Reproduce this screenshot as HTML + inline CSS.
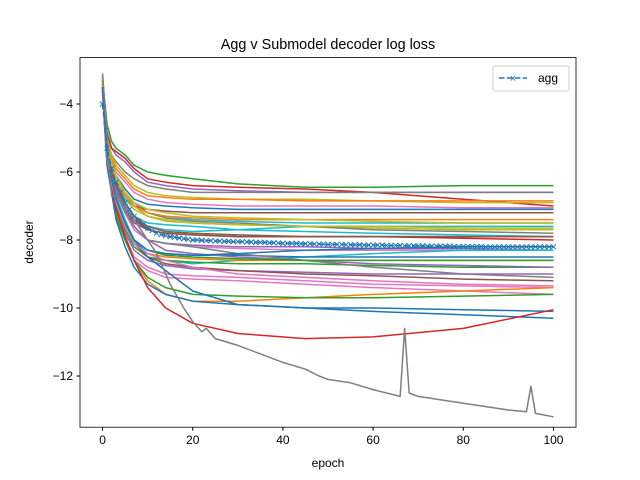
<!DOCTYPE html>
<html><head><meta charset="utf-8"><style>
body{margin:0;background:#fff}
svg{display:block;font-family:"Liberation Sans","DejaVu Sans",sans-serif}
</style></head><body>
<svg id="chart" width="640" height="480" viewBox="0 0 640 480">
<rect width="640" height="480" fill="#fff"/>
<text x="328" y="49" font-size="14.4" text-anchor="middle">Agg v Submodel decoder log loss</text>
<g id="lines"></g>
<g id="axes"></g>
<text x="328" y="467" font-size="12" text-anchor="middle">epoch</text>
<text transform="translate(33,242) rotate(-90)" font-size="12" text-anchor="middle">decoder</text>
<g>
<rect x="493" y="66" width="76" height="25" rx="2" fill="#fff" stroke="#ccc"/>
<line x1="499" y1="78" x2="527" y2="78" stroke="#1f77b4" stroke-width="1.5" stroke-dasharray="5.5,2.4"/>
<text x="513" y="82" font-size="11" fill="#1f77b4" text-anchor="middle">×</text>
<text x="538" y="82" font-size="12">agg</text>
</g>
</svg>
<script>
const EPOCHS=[0,1,2,3,5,7,10,14,20,30,45,60,80,100];
const COLORS=["#2ca02c","#9467bd","#d62728","#7f7f7f","#bcbd22","#ff7f0e","#e377c2","#1f77b4","#8c564b","#bcbd22","#17becf","#17becf","#7f7f7f","#d62728","#8c564b","#9467bd","#e377c2","#17becf","#1f77b4","#ff7f0e","#2ca02c","#7f7f7f","#9467bd","#8c564b","#e377c2","#e377c2","#ff7f0e","#2ca02c","#1f77b4","#1f77b4","#d62728","#bcbd22","#17becf","#ff7f0e","#9467bd","#2ca02c","#e377c2","#8c564b","#bcbd22","#1f77b4"];
const SERIES=[
[-3.3,-4.6,-5.1,-5.3,-5.5,-5.8,-6.0,-6.1,-6.2,-6.35,-6.45,-6.45,-6.4,-6.4],
[-3.2,-4.8,-5.3,-5.5,-5.7,-6.0,-6.3,-6.4,-6.5,-6.55,-6.6,-6.6,-6.6,-6.6],
[-3.2,-4.9,-5.3,-5.4,-5.6,-5.9,-6.2,-6.3,-6.4,-6.45,-6.5,-6.6,-6.8,-7.0],
[-3.3,-5.0,-5.5,-5.7,-6.0,-6.2,-6.4,-6.5,-6.6,-6.6,-6.6,-6.6,-6.6,-6.6],
[-3.3,-5.0,-5.5,-5.8,-6.1,-6.4,-6.6,-6.7,-6.75,-6.8,-6.8,-6.85,-6.9,-6.9],
[-3.4,-5.1,-5.6,-5.9,-6.2,-6.5,-6.7,-6.75,-6.8,-6.8,-6.85,-6.85,-6.85,-6.85],
[-3.4,-5.2,-5.7,-6.0,-6.3,-6.6,-6.8,-6.9,-6.95,-7.0,-7.0,-7.0,-7.05,-7.05],
[-3.5,-5.3,-5.8,-6.1,-6.5,-6.8,-6.95,-7.0,-7.05,-7.1,-7.1,-7.1,-7.1,-7.1],
[-3.4,-5.2,-5.9,-6.3,-6.7,-7.0,-7.1,-7.15,-7.2,-7.2,-7.2,-7.2,-7.2,-7.2],
[-3.5,-5.4,-6.0,-6.4,-6.8,-7.1,-7.3,-7.4,-7.5,-7.55,-7.6,-7.65,-7.7,-7.7],
[-3.4,-5.3,-6.0,-6.4,-6.8,-7.0,-7.2,-7.3,-7.4,-7.45,-7.5,-7.5,-7.5,-7.5],
[-3.5,-5.5,-6.2,-6.6,-7.1,-7.4,-7.6,-7.7,-7.75,-7.7,-7.6,-7.6,-7.6,-7.6],
[-3.3,-5.2,-5.8,-6.2,-6.6,-6.9,-7.2,-7.35,-7.45,-7.5,-7.6,-7.7,-7.75,-7.8],
[-3.5,-5.4,-6.0,-6.5,-7.0,-7.4,-7.7,-7.8,-7.85,-7.9,-7.9,-7.9,-7.95,-8.0],
[-3.4,-5.4,-6.0,-6.5,-7.1,-7.5,-7.7,-7.8,-7.85,-7.9,-7.9,-7.9,-7.9,-7.9],
[-3.6,-5.5,-6.1,-6.6,-7.2,-7.7,-8.0,-8.1,-8.15,-8.2,-8.2,-8.25,-8.25,-8.3],
[-3.5,-5.4,-6.0,-6.6,-7.2,-7.7,-8.0,-8.1,-8.2,-8.25,-8.3,-8.3,-8.3,-8.3],
[-3.5,-5.5,-6.1,-6.7,-7.4,-8.0,-8.4,-8.6,-8.7,-8.6,-8.5,-8.4,-8.3,-8.3],
[-3.6,-5.6,-6.2,-6.8,-7.5,-8.0,-8.3,-8.4,-8.45,-8.45,-8.5,-8.5,-8.5,-8.5],
[-3.6,-5.6,-6.3,-6.9,-7.6,-8.1,-8.4,-8.5,-8.55,-8.6,-8.6,-8.6,-8.6,-8.6],
[-3.5,-5.7,-6.4,-7.0,-7.7,-8.2,-8.5,-8.6,-8.65,-8.7,-8.7,-8.75,-8.8,-8.8],
[-3.4,-5.5,-6.1,-6.6,-7.2,-7.6,-8.0,-8.1,-8.2,-8.4,-8.6,-8.8,-9.0,-9.1],
[-3.6,-5.7,-6.4,-7.1,-7.8,-8.3,-8.6,-8.75,-8.85,-8.9,-8.95,-9.0,-9.0,-9.0],
[-3.5,-5.6,-6.3,-6.9,-7.6,-8.1,-8.5,-8.7,-8.8,-8.9,-9.0,-9.05,-9.15,-9.2],
[-3.7,-5.8,-6.5,-7.2,-7.9,-8.5,-8.8,-9.0,-9.05,-9.1,-9.2,-9.3,-9.35,-9.4],
[-3.6,-5.8,-6.6,-7.3,-8.0,-8.6,-8.9,-9.1,-9.15,-9.2,-9.3,-9.4,-9.5,-9.6],
[-3.5,-5.6,-6.4,-7.2,-7.9,-8.6,-9.2,-9.6,-9.8,-9.8,-9.7,-9.6,-9.5,-9.4],
[-3.6,-5.7,-6.5,-7.3,-8.0,-8.6,-9.1,-9.4,-9.6,-9.65,-9.7,-9.7,-9.65,-9.6],
[-3.6,-5.8,-6.6,-7.4,-8.2,-8.8,-9.3,-9.6,-9.8,-9.9,-10.0,-10.1,-10.2,-10.3],
[-3.5,-5.6,-6.3,-6.9,-7.5,-8.0,-8.5,-8.9,-9.5,-9.9,-10.0,-10.0,-10.05,-10.1],
[-3.4,-5.6,-6.4,-7.1,-7.9,-8.6,-9.4,-10.0,-10.45,-10.75,-10.9,-10.85,-10.6,-10.05],
[-3.3,-5.1,-5.7,-6.1,-6.6,-7.0,-7.3,-7.45,-7.5,-7.55,-7.6,-7.6,-7.65,-7.65],
[-3.4,-5.2,-5.8,-6.3,-6.9,-7.3,-7.5,-7.55,-7.6,-7.7,-7.75,-7.8,-7.85,-7.9],
[-3.5,-5.3,-5.9,-6.3,-6.7,-7.0,-7.2,-7.3,-7.35,-7.4,-7.4,-7.4,-7.4,-7.4],
[-3.4,-5.3,-6.0,-6.5,-7.1,-7.6,-8.0,-8.3,-8.4,-8.5,-8.6,-8.7,-8.75,-8.8],
[-3.5,-5.5,-6.2,-6.8,-7.5,-8.0,-8.3,-8.45,-8.5,-8.55,-8.6,-8.6,-8.6,-8.6],
[-3.6,-5.6,-6.3,-6.9,-7.6,-8.1,-8.4,-8.6,-8.8,-9.0,-9.1,-9.2,-9.3,-9.35],
[-3.5,-5.4,-6.0,-6.4,-6.9,-7.3,-7.6,-7.75,-7.8,-7.85,-7.9,-7.9,-7.9,-7.9],
[-3.4,-5.2,-5.8,-6.2,-6.6,-6.9,-7.1,-7.2,-7.3,-7.35,-7.4,-7.45,-7.5,-7.5],
[-3.5,-5.5,-6.2,-6.8,-7.5,-8.0,-8.3,-8.4,-8.45,-8.4,-8.3,-8.25,-8.2,-8.2]
];
const GRAY_EPOCHS=[0,1,2,3,4,6,8,10,12,15,18,20,22,23,25,30,40,45,48,50,55,60,66,67,68,70,80,90,94,95,96,100];
const GRAY_VALUES=[-3.1,-5.0,-6.7,-6.7,-6.8,-7.2,-7.6,-8.0,-8.4,-9.3,-10.0,-10.4,-10.7,-10.6,-10.9,-11.1,-11.6,-11.8,-12.0,-12.1,-12.2,-12.4,-12.6,-10.6,-12.5,-12.6,-12.8,-13.0,-13.05,-12.3,-13.1,-13.2];
const AGG=[-4.0,-5.3,-5.9,-6.3,-6.6,-6.9,-7.1,-7.3,-7.45,-7.55,-7.65,-7.72,-7.8,-7.84,-7.87,-7.9,-7.92,-7.94,-7.96,-7.98,-8.0,
-8.0,-8.01,-8.02,-8.02,-8.03,-8.03,-8.04,-8.04,-8.05,-8.05,-8.05,-8.06,-8.06,-8.07,-8.07,-8.07,-8.08,-8.08,-8.09,-8.1,
-8.1,-8.1,-8.1,-8.11,-8.11,-8.11,-8.12,-8.12,-8.12,-8.13,-8.13,-8.13,-8.13,-8.14,-8.14,-8.14,-8.14,-8.15,-8.15,-8.15,
-8.15,-8.15,-8.16,-8.16,-8.16,-8.16,-8.17,-8.17,-8.17,-8.17,-8.17,-8.18,-8.18,-8.18,-8.18,-8.18,-8.18,-8.19,-8.19,-8.19,
-8.19,-8.19,-8.19,-8.19,-8.2,-8.2,-8.2,-8.2,-8.2,-8.2,-8.2,-8.2,-8.2,-8.2,-8.2,-8.2,-8.2,-8.2,-8.2,-8.2];
const X_TICKS=[0,20,40,60,80,100];
const Y_TICKS=[-12,-10,-8,-6,-4];

const NS="http://www.w3.org/2000/svg";
const L=80,R=576,T=57.6,B=427.2;
function xs(v){return L+(v+5)/110*(R-L);}
function ys(v){return 104-(v+4)*34;}
const lines=document.getElementById('lines');
const axes=document.getElementById('axes');
function path(xArr,yArr,color,name,extra){
  const p=document.createElementNS(NS,'path');
  p.setAttribute('d',xArr.map((x,i)=>(i?'L':'M')+xs(x).toFixed(2)+','+ys(yArr[i]).toFixed(2)).join(''));
  p.setAttribute('fill','none');p.setAttribute('stroke',color);p.setAttribute('stroke-width','1.5');
  p.setAttribute('stroke-linejoin','round');
  if(extra)p.setAttribute('stroke-dasharray',extra);
  
  
  lines.appendChild(p);
}
SERIES.forEach((s,i)=>path(EPOCHS,s,COLORS[i%COLORS.length],'submodel-line-'+(i+1)));
path(GRAY_EPOCHS,GRAY_VALUES,'#7f7f7f','submodel-line-outlier');
const aggX=AGG.map((v,i)=>i);
path(aggX,AGG,'#1f77b4','agg-line','5.5,2.4');
AGG.forEach((v,i)=>{
  const cx=xs(i),cy=ys(v),d=2.5;
  const m=document.createElementNS(NS,'path');
  m.setAttribute('d',`M${cx-d},${cy-d}L${cx+d},${cy+d}M${cx-d},${cy+d}L${cx+d},${cy-d}`);
  m.setAttribute('stroke','#1f77b4');m.setAttribute('stroke-width','1');
  
  
  lines.appendChild(m);
});
const frame=document.createElementNS(NS,'rect');
frame.setAttribute('x',L);frame.setAttribute('y',T);frame.setAttribute('width',R-L);frame.setAttribute('height',B-T);
frame.setAttribute('fill','none');frame.setAttribute('stroke','#000');frame.setAttribute('stroke-width','0.8');


axes.appendChild(frame);
X_TICKS.forEach(t=>{
  const x=xs(t);
  const l=document.createElementNS(NS,'line');
  l.setAttribute('x1',x);l.setAttribute('x2',x);l.setAttribute('y1',B);l.setAttribute('y2',B+3.5);l.setAttribute('stroke','#000');
  axes.appendChild(l);
  const tx=document.createElementNS(NS,'text');
  tx.setAttribute('x',x);tx.setAttribute('y',B+17);tx.setAttribute('font-size','12');tx.setAttribute('text-anchor','middle');
  tx.textContent=t;
  
  
  axes.appendChild(tx);
});
Y_TICKS.forEach(t=>{
  const y=ys(t);
  const l=document.createElementNS(NS,'line');
  l.setAttribute('x1',L-3.5);l.setAttribute('x2',L);l.setAttribute('y1',y);l.setAttribute('y2',y);l.setAttribute('stroke','#000');
  axes.appendChild(l);
  const tx=document.createElementNS(NS,'text');
  tx.setAttribute('x',L-7);tx.setAttribute('y',y+4);tx.setAttribute('font-size','12');tx.setAttribute('text-anchor','end');
  tx.textContent='\u2212'+Math.abs(t);
  
  
  axes.appendChild(tx);
});
</script>
</body></html>
